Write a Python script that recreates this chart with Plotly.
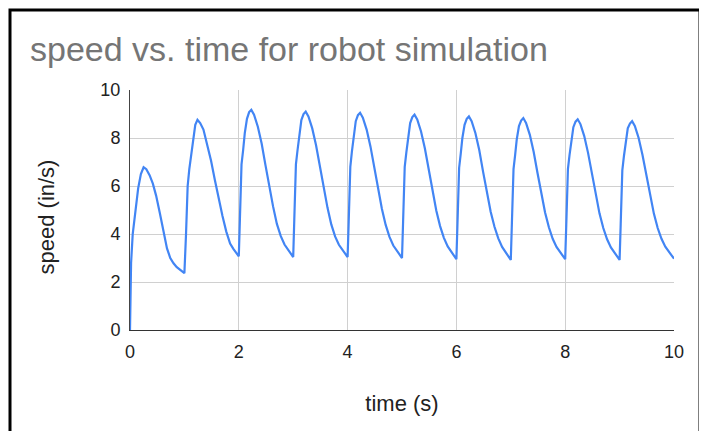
import plotly.graph_objs as go

# Data
time_s = [
    0.00, 0.02, 0.05, 0.08, 0.11, 0.15, 0.20, 0.25, 0.30, 0.36, 0.42, 0.48, 0.55, 0.62, 0.68, 0.74, 0.80, 0.86, 0.92, 1.00,
    1.03, 1.06, 1.09, 1.12, 1.16, 1.20, 1.24, 1.29, 1.35, 1.42, 1.49, 1.56, 1.63, 1.70, 1.77, 1.84, 1.90, 1.96, 2.00,
    2.02, 2.05, 2.08, 2.11, 2.15, 2.19, 2.23, 2.28, 2.35, 2.42, 2.49, 2.56, 2.63, 2.70, 2.77, 2.84, 2.90, 2.96, 3.00,
    3.02, 3.05, 3.08, 3.11, 3.15, 3.19, 3.23, 3.28, 3.35, 3.42, 3.49, 3.56, 3.63, 3.70, 3.77, 3.84, 3.90, 3.96, 4.00,
    4.02, 4.05, 4.08, 4.11, 4.15, 4.19, 4.23, 4.28, 4.35, 4.42, 4.49, 4.56, 4.63, 4.70, 4.77, 4.84, 4.90, 4.96, 5.00,
    5.02, 5.05, 5.08, 5.11, 5.15, 5.19, 5.23, 5.28, 5.35, 5.42, 5.49, 5.56, 5.63, 5.70, 5.77, 5.84, 5.90, 5.96, 6.00,
    6.02, 6.05, 6.08, 6.11, 6.15, 6.19, 6.23, 6.28, 6.35, 6.42, 6.49, 6.56, 6.63, 6.70, 6.77, 6.84, 6.90, 6.96, 7.00,
    7.02, 7.05, 7.08, 7.11, 7.15, 7.19, 7.23, 7.28, 7.35, 7.42, 7.49, 7.56, 7.63, 7.70, 7.77, 7.84, 7.90, 7.96, 8.00,
    8.02, 8.05, 8.08, 8.11, 8.15, 8.19, 8.23, 8.28, 8.35, 8.42, 8.49, 8.56, 8.63, 8.70, 8.77, 8.84, 8.90, 8.96, 9.00,
    9.02, 9.05, 9.08, 9.11, 9.15, 9.19, 9.23, 9.28, 9.35, 9.42, 9.49, 9.56, 9.63, 9.70, 9.77, 9.84, 9.90, 9.96, 10.00,
]
speed_in_s = [
    0.00, 2.80, 4.00, 4.60, 5.20, 5.90, 6.50, 6.78, 6.70, 6.45, 6.10, 5.60, 4.85, 4.00, 3.40, 3.00, 2.78, 2.62, 2.52, 2.37,
    4.00, 6.00, 6.70, 7.20, 8.00, 8.55, 8.76, 8.62, 8.35, 7.75, 7.05, 6.25, 5.45, 4.75, 4.10, 3.60, 3.38, 3.20, 3.07,
    4.60, 6.90, 7.50, 8.20, 8.80, 9.08, 9.17, 8.97, 8.47, 7.77, 6.87, 5.97, 5.15, 4.42, 3.92, 3.56, 3.36, 3.17, 3.04,
    4.60, 6.90, 7.50, 8.15, 8.75, 9.00, 9.10, 8.90, 8.40, 7.70, 6.80, 5.90, 5.10, 4.40, 3.90, 3.55, 3.35, 3.15, 3.04,
    4.50, 6.80, 7.45, 8.10, 8.70, 8.95, 9.05, 8.85, 8.35, 7.65, 6.75, 5.85, 5.05, 4.38, 3.88, 3.52, 3.32, 3.12, 3.00,
    4.50, 6.80, 7.40, 8.05, 8.62, 8.87, 8.97, 8.77, 8.27, 7.57, 6.67, 5.77, 4.98, 4.33, 3.84, 3.48, 3.28, 3.08, 2.95,
    4.45, 6.75, 7.35, 8.00, 8.55, 8.80, 8.90, 8.70, 8.20, 7.50, 6.60, 5.70, 4.93, 4.30, 3.82, 3.46, 3.26, 3.06, 2.92,
    4.45, 6.70, 7.30, 7.95, 8.50, 8.73, 8.83, 8.63, 8.13, 7.43, 6.55, 5.65, 4.90, 4.28, 3.80, 3.46, 3.27, 3.08, 2.95,
    4.40, 6.70, 7.30, 7.90, 8.45, 8.68, 8.78, 8.58, 8.08, 7.38, 6.50, 5.60, 4.86, 4.25, 3.78, 3.44, 3.25, 3.05, 2.92,
    4.40, 6.65, 7.25, 7.85, 8.40, 8.60, 8.70, 8.50, 8.00, 7.30, 6.45, 5.58, 4.85, 4.25, 3.80, 3.47, 3.28, 3.10, 2.97,
]
x_ticks = [0, 2, 4, 6, 8, 10]
y_ticks = [0, 2, 4, 6, 8, 10]

FONT = 'Arial, Liberation Sans, sans-serif'

trace = go.Scatter(x=time_s, y=speed_in_s, mode='lines',
                   line=dict(color='#4285F4', width=2.2),
                   showlegend=False, hoverinfo='skip')

# page body has an 8px margin, so the figure is 8px smaller and shifted
layout = go.Layout(
    width=699, height=423,
    margin=dict(l=122, r=33, t=82, b=101),
    paper_bgcolor='white', plot_bgcolor='white',
    font=dict(family=FONT, color='#222222'),
    title=dict(text='speed vs. time for robot simulation',
               font=dict(family=FONT, size=34, color='#757575'),
               xref='container', x=22 / 699, xanchor='left',
               yref='container', y=1 - 41 / 423, yanchor='middle'),
    xaxis=dict(range=[0, 10], tickvals=x_ticks, ticks='outside', ticklen=5,
               tickcolor='rgba(0,0,0,0)',
               tickfont=dict(size=18, color='#222222'),
               showgrid=True, gridcolor='#d0d0d0', gridwidth=1,
               zeroline=False, showline=True, linecolor='#333333', linewidth=1,
               title=dict(text='time (s)', font=dict(size=22, color='#222222'), standoff=35)),
    yaxis=dict(range=[0, 10], tickvals=y_ticks, ticks='outside', ticklen=5,
               tickcolor='rgba(0,0,0,0)',
               tickfont=dict(size=18, color='#222222'),
               showgrid=True, gridcolor='#d0d0d0', gridwidth=1,
               zeroline=False, showline=True, linecolor='#444444', linewidth=1),
    annotations=[dict(text='speed (in/s)', textangle=-90, showarrow=False,
                      xref='paper', yref='paper',
                      x=(38 - 122) / 544, y=(322 - 209.5) / 240,
                      xanchor='center', yanchor='middle',
                      font=dict(family=FONT, size=22, color='#222222'))],
    shapes=[dict(type='rect', xref='paper', yref='paper',
                 x0=(2 - 122) / 544, x1=(692 - 122) / 544, y0=-0.5, y1=(322 - 2) / 240,
                 line=dict(color='black', width=3), layer='below')],
)

fig = go.Figure(data=[trace], layout=layout)
fig.write_html('out.html')
